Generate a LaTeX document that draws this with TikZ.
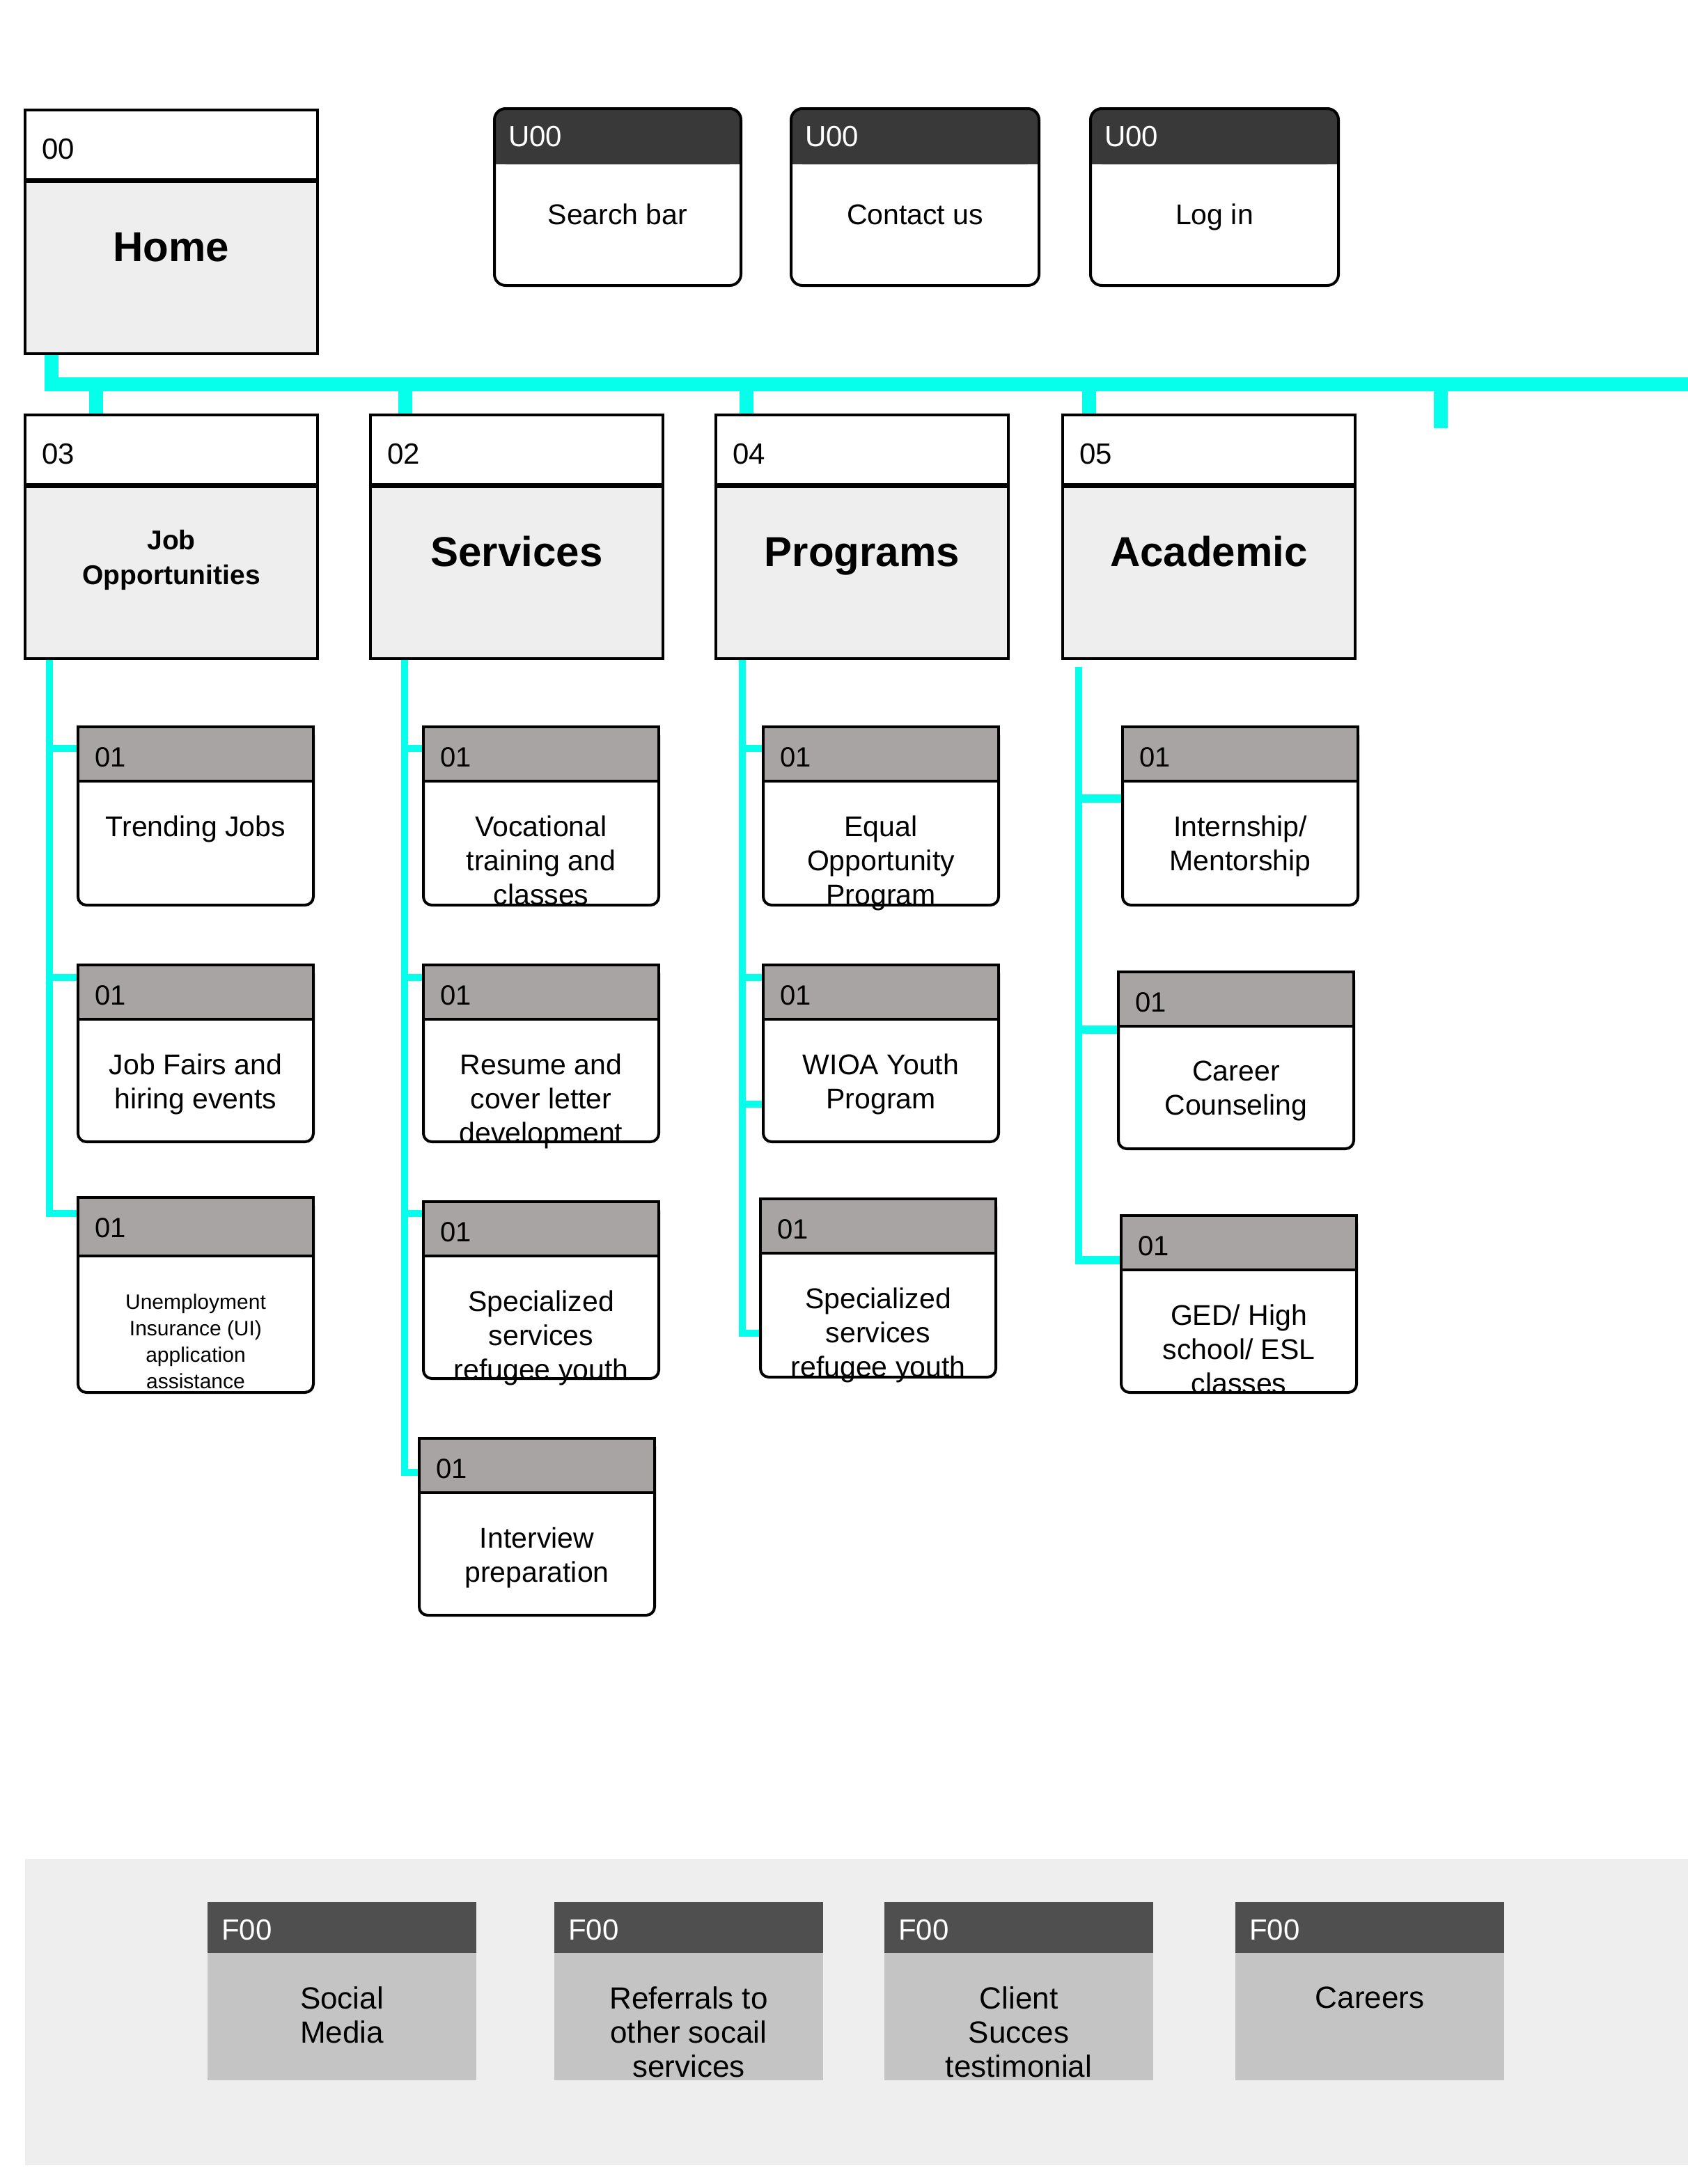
\documentclass[tikz,border=0pt]{standalone}
\usepackage{fontspec}
\setmainfont{Liberation Sans}
\usetikzlibrary{calc}

\definecolor{aqua}{HTML}{06FFEA}
\definecolor{panelgray}{HTML}{EEEEEE}
\definecolor{tabgray}{HTML}{A8A4A4}
\definecolor{utab}{HTML}{393939}
\definecolor{ftab}{HTML}{4F4F4F}
\definecolor{fbody}{HTML}{C4C4C4}

\pgfdeclarelayer{bg}
\pgfsetlayers{bg,main}

\tikzset{
  every node/.style={inner sep=0pt, outer sep=0pt},
  secframe/.style={draw=black, line width=2pt, fill=panelgray, anchor=north west,
    minimum width=210pt, minimum height=175pt},
  subframe/.style={draw=black, line width=2pt, fill=white, rounded corners=6pt,
    anchor=north west, minimum width=169pt},
  uframe/.style={fill=white, anchor=north west, minimum height=127pt},
  fframe/.style={fill=fbody, anchor=north west, minimum width=193pt, minimum height=128pt},
  seccode/.style={anchor=west, font=\fontsize{21}{25}\selectfont},
  tabcode/.style={anchor=west, font=\fontsize{20}{24}\selectfont},
  ucode/.style={anchor=west, text=white, font=\fontsize{21}{25}\selectfont},
  title/.style={anchor=base, font=\fontsize{30}{34}\selectfont\bfseries},
  subtitle/.style={anchor=north, align=center, font=\fontsize{19.5}{25}\selectfont\bfseries},
  cardtext/.style={anchor=north, align=center, font=\fontsize{20.5}{24.5}\selectfont},
  smalltext/.style={anchor=north, align=center, font=\fontsize{15}{19}\selectfont},
  utext/.style={anchor=base, font=\fontsize{20.5}{24}\selectfont},
  ftext/.style={anchor=north, align=center, font=\fontsize{22}{24.5}\selectfont},
  bus/.style={draw=aqua, line width=10pt},
  branch/.style={draw=aqua, line width=5pt},
  widebranch/.style={draw=aqua, line width=6pt},
}

% section box: white code strip over a grey body
\newcommand{\secbox}[4]{%
  \node[secframe] (#1) at (#2,-#3) {};
  \filldraw[fill=white, draw=black, line width=2pt]
    (#1.north west) rectangle ([yshift=-50.5pt]#1.north east);
  \draw[line width=3.5pt] ([yshift=-50.5pt]#1.north west) -- ([yshift=-50.5pt]#1.north east);
  \node[seccode] (#1-code) at ([xshift=12pt,yshift=-28pt]#1.north west) {#4};
}

% page card: grey tab on top, rounded bottom corners
\newcommand{\subcard}[5]{%
  \node[subframe, minimum height=#4] (#1) at (#2,-#3) {};
  \filldraw[fill=tabgray, draw=black, line width=2pt]
    (#1.north west) rectangle ([yshift=-#5]#1.north east);
  \node[tabcode] (#1-code) at ([xshift=12pt,yshift=-22pt]#1.north west) {01};
}

% utility card: dark tab, all corners rounded
\newcommand{\ucard}[5]{%
  \node[uframe, minimum width=#4] (#1) at (#2,-#3) {};
  \fill[utab, rounded corners=8pt] (#1.north west) rectangle ([yshift=-40pt]#1.north east);
  \fill[utab] ([yshift=-20pt]#1.north west) rectangle ([yshift=-40pt]#1.north east);
  \draw[line width=2pt, rounded corners=8pt] (#1.north west) rectangle (#1.south east);
  \node[ucode] (#1-code) at ([xshift=10pt,yshift=-20pt]#1.north west) {U00};
  \node[utext] (#1-t) at ([yshift=-83.3pt]#1.north) {#5};
}

% footer card: dark tab over a grey body, no outline
\newcommand{\fcard}[4]{%
  \node[fframe] (#1) at (#2,-#3) {};
  \fill[ftab] (#1.north west) rectangle ([yshift=-36.5pt]#1.north east);
  \node[ucode] (#1-code) at ([xshift=10pt,yshift=-20pt]#1.north west) {F00};
  \node[ftext] (#1-t) at ([yshift=-61pt]#1.north) {#4};
}

\begin{document}
\begin{tikzpicture}[x=1pt,y=1pt]
\useasboundingbox (0,0) rectangle (1212,-1568.5);

% ---------- utility cards ----------
\ucard{search}{355}{78}{177}{Search bar}
\ucard{contact}{568}{78}{178}{Contact us}
\ucard{login}{783}{78}{178}{Log in}

% ---------- home and top-level sections ----------
\secbox{home}{18}{79}{00}
\node[title] (home-t) at ([yshift=-108.7pt]home.north) {Home};

\secbox{jobs}{18}{298}{03}
\node[subtitle] (jobs-t) at ([yshift=-82.8pt]jobs.north) {Job\\Opportunities};

\secbox{services}{266}{298}{02}
\node[title] (services-t) at ([yshift=-108.7pt]services.north) {Services};

\secbox{programs}{514}{298}{04}
\node[title] (programs-t) at ([yshift=-108.7pt]programs.north) {Programs};

\secbox{academic}{763}{298}{05}
\node[title] (academic-t) at ([yshift=-108.7pt]academic.north) {Academic};

% ---------- job opportunities pages ----------
\subcard{trend}{56}{522}{128}{39}
\node[cardtext] (trend-t) at ([yshift=-64pt]trend.north) {Trending Jobs};
\subcard{fairs}{56}{693}{127}{39}
\node[cardtext] (fairs-t) at ([yshift=-64pt]fairs.north) {Job Fairs and\\hiring events};
\subcard{unemp}{56}{860}{140}{42}
\node[smalltext] (unemp-t) at ([yshift=-69.4pt]unemp.north) {Unemployment\\Insurance (UI)\\application\\assistance};

% ---------- services pages ----------
\subcard{voc}{304}{522}{128}{39}
\node[cardtext] (voc-t) at ([yshift=-64pt]voc.north) {Vocational\\training and\\classes};
\subcard{resume}{304}{693}{127}{39}
\node[cardtext] (resume-t) at ([yshift=-64pt]resume.north) {Resume and\\cover letter\\development};
\subcard{specs}{304}{863}{127}{39}
\node[cardtext] (specs-t) at ([yshift=-64pt]specs.north) {Specialized\\services\\refugee youth};
\subcard{interview}{301}{1033}{127}{39}
\node[cardtext] (interview-t) at ([yshift=-64pt]interview.north) {Interview\\preparation};

% ---------- programs pages ----------
\subcard{equal}{548}{522}{128}{39}
\node[cardtext] (equal-t) at ([yshift=-64pt]equal.north) {Equal\\Opportunity\\Program};
\subcard{wioa}{548}{693}{127}{39}
\node[cardtext] (wioa-t) at ([yshift=-64pt]wioa.north) {WIOA Youth\\Program};
\subcard{specp}{546}{861}{128}{39}
\node[cardtext] (specp-t) at ([yshift=-64pt]specp.north) {Specialized\\services\\refugee youth};

% ---------- academic pages ----------
\subcard{intern}{806}{522}{128}{39}
\node[cardtext] (intern-t) at ([yshift=-64pt]intern.north) {Internship/\\Mentorship};
\subcard{career}{803}{698}{127}{39}
\node[cardtext] (career-t) at ([yshift=-64pt]career.north) {Career\\Counseling};
\subcard{ged}{805}{873}{127}{39}
\node[cardtext] (ged-t) at ([yshift=-64pt]ged.north) {GED/ High\\school/ ESL\\classes};

% ---------- footer ----------
\node[fill=panelgray, anchor=north west, minimum width=1194pt, minimum height=220pt]
  (footer) at (18,-1335) {};
\fcard{social}{149}{1366}{Social\\Media}
\fcard{referrals}{398}{1366}{Referrals to\\other socail\\services}
\fcard{client}{635}{1366}{Client\\Succes\\testimonial}
\fcard{careers}{887}{1366}{Careers}

% ---------- connectors ----------
\begin{pgfonlayer}{bg}
  % main bus from home across the page
  \coordinate (busend) at (1212,-276);
  \coordinate (hdrop) at ([xshift=19pt]home.south west);
  \draw[bus] (hdrop) -- (hdrop |- busend) -- (busend);
  \coordinate (jdrop) at ([xshift=51pt]jobs.north west);
  \coordinate (sdrop) at ([xshift=25pt]services.north west);
  \coordinate (pdrop) at ([xshift=22pt]programs.north west);
  \coordinate (adrop) at ([xshift=19pt]academic.north west);
  \draw[bus] (jdrop) -- (jdrop |- busend);
  \draw[bus] (sdrop) -- (sdrop |- busend);
  \draw[bus] (pdrop) -- (pdrop |- busend);
  \draw[bus] (adrop) -- (adrop |- busend);
  \coordinate (spare) at (1034.5,-307.5);
  \draw[bus] (spare |- busend) -- (spare);

  % job opportunities column
  \coordinate (jc) at ([xshift=17.4pt]jobs.south west);
  \coordinate (j1) at ([yshift=-15.3pt]trend.north west);
  \coordinate (j2) at ([yshift=-9pt]fairs.north west);
  \coordinate (j3) at ([yshift=-11.5pt]unemp.north west);
  \draw[branch] (jc) |- (j3);
  \draw[branch] (jc |- j1) -- (j1);
  \draw[branch] (jc |- j2) -- (j2);

  % services column
  \coordinate (sc) at ([xshift=24.3pt]services.south west);
  \coordinate (s1) at ([yshift=-15.3pt]voc.north west);
  \coordinate (s2) at ([yshift=-9pt]resume.north west);
  \coordinate (s3) at ([yshift=-8.5pt]specs.north west);
  \coordinate (s4) at ([yshift=-24.5pt]interview.north west);
  \draw[branch] (sc) |- (s4);
  \draw[branch] (sc |- s1) -- (s1);
  \draw[branch] (sc |- s2) -- (s2);
  \draw[branch] (sc |- s3) -- (s3);

  % programs column
  \coordinate (pc) at ([xshift=19pt]programs.south west);
  \coordinate (p1) at ([yshift=-15.3pt]equal.north west);
  \coordinate (p2) at ([yshift=-9pt]wioa.north west);
  \coordinate (p3) at ([yshift=-100pt]wioa.north west);
  \coordinate (p4) at ([yshift=-96.5pt]specp.north west);
  \draw[branch] (pc) |- (p4);
  \draw[branch] (pc |- p1) -- (p1);
  \draw[branch] (pc |- p2) -- (p2);
  \draw[branch] (pc |- p3) -- (p3);

  % academic column
  \coordinate (ac) at ([xshift=11.4pt,yshift=-6pt]academic.south west);
  \coordinate (a1) at ([yshift=-51.5pt]intern.north west);
  \coordinate (a2) at ([yshift=-41.5pt]career.north west);
  \coordinate (a3) at ([yshift=-32pt]ged.north west);
  \draw[branch] (ac) -- (ac |- a3);
  \draw[widebranch] (ac |- a1) -- (a1);
  \draw[widebranch] (ac |- a2) -- (a2);
  \draw[widebranch] ([xshift=-2.5pt]ac |- a3) -- (a3);
\end{pgfonlayer}
\end{tikzpicture}
\end{document}
